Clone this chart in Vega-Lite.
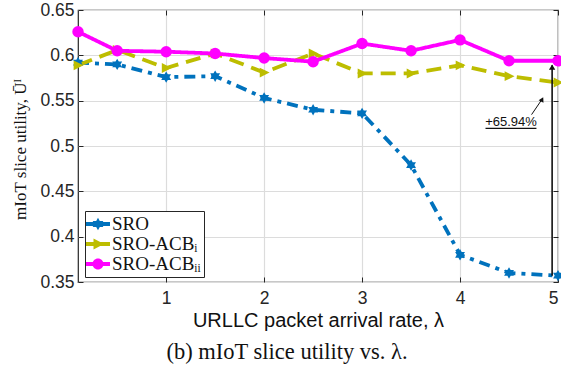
{
  "$schema": "https://vega.github.io/schema/vega-lite/v6.json",
  "width": 480,
  "height": 272,
  "autosize": {"type": "none"},
  "padding": {"left": 78, "top": 10, "right": 3, "bottom": 92},
  "background": "white",
  "config": {
    "view": {"stroke": "#262626", "strokeWidth": 1.2},
    "axis": {
      "labelFont": "Liberation Sans",
      "labelFontSize": 17.5,
      "labelColor": "#262626",
      "domain": false,
      "tickColor": "#262626",
      "tickSize": -5,
      "gridColor": "#dcdcdc",
      "gridWidth": 1.2,
      "titleFontWeight": "normal",
      "titleColor": "#111111"
    }
  },
  "title": {
    "text": "(b) mIoT slice utility vs. λ.",
    "orient": "bottom",
    "anchor": "middle",
    "font": "Liberation Serif",
    "fontSize": 22.5,
    "fontWeight": "normal",
    "color": "#111111",
    "dx": -31,
    "offset": 10
  },
  "datasets": {
    "main": [
      {"lam": 0.1, "u": 0.592, "s": "SRO"},
      {"lam": 0.5, "u": 0.590, "s": "SRO"},
      {"lam": 1.0, "u": 0.576, "s": "SRO"},
      {"lam": 1.5, "u": 0.577, "s": "SRO"},
      {"lam": 2.0, "u": 0.553, "s": "SRO"},
      {"lam": 2.5, "u": 0.540, "s": "SRO"},
      {"lam": 3.0, "u": 0.536, "s": "SRO"},
      {"lam": 3.5, "u": 0.479, "s": "SRO"},
      {"lam": 4.0, "u": 0.380, "s": "SRO"},
      {"lam": 4.5, "u": 0.360, "s": "SRO"},
      {"lam": 5.0, "u": 0.357, "s": "SRO"},
      {"lam": 0.1, "u": 0.589, "s": "SRO-ACBᵢ"},
      {"lam": 0.5, "u": 0.606, "s": "SRO-ACBᵢ"},
      {"lam": 1.0, "u": 0.586, "s": "SRO-ACBᵢ"},
      {"lam": 1.5, "u": 0.602, "s": "SRO-ACBᵢ"},
      {"lam": 2.0, "u": 0.581, "s": "SRO-ACBᵢ"},
      {"lam": 2.5, "u": 0.602, "s": "SRO-ACBᵢ"},
      {"lam": 3.0, "u": 0.580, "s": "SRO-ACBᵢ"},
      {"lam": 3.5, "u": 0.580, "s": "SRO-ACBᵢ"},
      {"lam": 4.0, "u": 0.589, "s": "SRO-ACBᵢ"},
      {"lam": 4.5, "u": 0.577, "s": "SRO-ACBᵢ"},
      {"lam": 5.0, "u": 0.570, "s": "SRO-ACBᵢ"},
      {"lam": 0.1, "u": 0.626, "s": "SRO-ACBᵢᵢ"},
      {"lam": 0.5, "u": 0.605, "s": "SRO-ACBᵢᵢ"},
      {"lam": 1.0, "u": 0.604, "s": "SRO-ACBᵢᵢ"},
      {"lam": 1.5, "u": 0.602, "s": "SRO-ACBᵢᵢ"},
      {"lam": 2.0, "u": 0.597, "s": "SRO-ACBᵢᵢ"},
      {"lam": 2.5, "u": 0.593, "s": "SRO-ACBᵢᵢ"},
      {"lam": 3.0, "u": 0.613, "s": "SRO-ACBᵢᵢ"},
      {"lam": 3.5, "u": 0.605, "s": "SRO-ACBᵢᵢ"},
      {"lam": 4.0, "u": 0.617, "s": "SRO-ACBᵢᵢ"},
      {"lam": 4.5, "u": 0.594, "s": "SRO-ACBᵢᵢ"},
      {"lam": 5.0, "u": 0.594, "s": "SRO-ACBᵢᵢ"}
    ],
    "vline": [{"x": 4.94, "y": 0.357, "y2": 0.589}],
    "vhead": [{"x": 4.94, "y": 0.587}],
    "label": [{"x": 4.52, "y": 0.5265, "t": "+65.94%"}],
    "uline": [{"x": 4.26, "x2": 4.78, "y": 0.5195}],
    "sarrow": [{"x": 4.73, "y": 0.5346, "x2": 4.84, "y2": 0.552}],
    "shead": [{"x": 4.838, "y": 0.5515}]
  },
  "layer": [
    {
      "data": {"name": "main"},
      "mark": {"type": "point", "filled": true, "size": 400, "strokeWidth": 0},
      "encoding": {
        "x": {
          "field": "lam", "type": "quantitative",
          "scale": {"domain": [0.1, 5], "nice": false, "zero": false},
          "axis": {"values": [1, 2, 3, 4, 5], "title": "URLLC packet arrival rate, λ", "titleFont": "Liberation Sans", "titleFontSize": 20, "titlePadding": 4, "labelPadding": 12}
        },
        "y": {
          "field": "u", "type": "quantitative",
          "scale": {"domain": [0.35, 0.65], "nice": false, "zero": false},
          "axis": {"values": [0.35, 0.4, 0.45, 0.5, 0.55, 0.6, 0.65], "format": ".2~f", "title": "mIoT slice utility, Ūᴵ", "titleFont": "Liberation Serif", "titleFontSize": 17, "titlePadding": 10, "labelPadding": 9, "titleY": 139}
        },
        "opacity": {"field": "u", "type": "quantitative", "scale": {"range": [0, 0]}, "legend": null},
        "color": {
          "field": "s", "type": "nominal",
          "scale": {"domain": ["SRO", "SRO-ACBᵢ", "SRO-ACBᵢᵢ"], "range": ["#0072BD", "#BDBD00", "#FF00FF"]},
          "legend": {
            "title": null,
            "orient": "none",
            "legendX": 7,
            "legendY": 201,
            "direction": "vertical",
            "fillColor": "white",
            "strokeColor": "#262626",
            "padding": 3,
            "rowPadding": 0,
            "labelFont": "Liberation Serif",
            "labelFontSize": 19,
            "labelColor": "#111111",
            "labelOffset": 4,
            "symbolSize": 400,
            "symbolStrokeWidth": 0,
            "symbolOpacity": 1
          }
        },
        "shape": {
          "field": "s", "type": "nominal",
          "scale": {"domain": ["SRO", "SRO-ACBᵢ", "SRO-ACBᵢᵢ"], "range": [
            "M-1.2,-0.2 H1.2 V0.2 H-1.2 Z M0,-0.62 L0.179,-0.31 L0.537,-0.31 L0.358,0 L0.537,0.31 L0.179,0.31 L0,0.62 L-0.179,0.31 L-0.537,0.31 L-0.358,0 L-0.537,-0.31 L-0.179,-0.31 Z",
            "M-1.2,-0.2 H1.2 V0.2 H-1.2 Z M-0.45,-0.55 L0.6,0 L-0.45,0.55 Z",
            "M-1.2,-0.2 H1.2 V0.2 H-1.2 Z M-0.55,0 A0.55,0.55 0 1,1 0.55,0 A0.55,0.55 0 1,1 -0.55,0 Z"
          ]},
          "legend": null
        }
      }
    },
    {
      "data": {"name": "main"},
      "mark": {"type": "line", "strokeWidth": 3.8},
      "encoding": {
        "x": {"field": "lam", "type": "quantitative", "axis": null},
        "y": {"field": "u", "type": "quantitative", "axis": null},
        "color": {"field": "s", "type": "nominal", "legend": null},
        "strokeDash": {
          "field": "s", "type": "nominal",
          "scale": {"domain": ["SRO", "SRO-ACBᵢ", "SRO-ACBᵢᵢ"], "range": [[11, 6, 4, 6], [15, 8], [1, 0]]},
          "legend": null
        }
      }
    },
    {
      "data": {"name": "main"},
      "transform": [{"filter": {"field": "s", "equal": "SRO"}}],
      "mark": {"type": "point", "filled": true, "opacity": 1, "size": 130, "color": "#0072BD", "shape": "M0,-1 L0.289,-0.5 L0.866,-0.5 L0.577,0 L0.866,0.5 L0.289,0.5 L0,1 L-0.289,0.5 L-0.866,0.5 L-0.577,0 L-0.866,-0.5 L-0.289,-0.5 Z"},
      "encoding": {
        "x": {"field": "lam", "type": "quantitative", "axis": {"orient": "top", "values": [1, 2, 3, 4, 5], "labels": false, "grid": false, "title": null}},
        "y": {"field": "u", "type": "quantitative", "axis": {"orient": "right", "values": [0.35, 0.4, 0.45, 0.5, 0.55, 0.6, 0.65], "labels": false, "grid": false, "title": null}}
      }
    },
    {
      "data": {"name": "main"},
      "transform": [{"filter": {"field": "s", "equal": "SRO-ACBᵢ"}}],
      "mark": {"type": "point", "filled": true, "opacity": 1, "size": 120, "color": "#BDBD00", "shape": "M-0.8,-0.9 L1,0 L-0.8,0.9 Z"},
      "encoding": {
        "x": {"field": "lam", "type": "quantitative", "axis": null},
        "y": {"field": "u", "type": "quantitative", "axis": null}
      }
    },
    {
      "data": {"name": "main"},
      "transform": [{"filter": {"field": "s", "equal": "SRO-ACBᵢᵢ"}}],
      "mark": {"type": "point", "filled": true, "opacity": 1, "size": 130, "color": "#FF00FF", "shape": "circle"},
      "encoding": {
        "x": {"field": "lam", "type": "quantitative", "axis": null},
        "y": {"field": "u", "type": "quantitative", "axis": null}
      }
    },
    {
      "data": {"name": "vline"},
      "mark": {"type": "rule", "color": "#111111", "strokeWidth": 1.6},
      "encoding": {
        "x": {"field": "x", "type": "quantitative", "axis": null},
        "y": {"field": "y", "type": "quantitative", "axis": null},
        "y2": {"field": "y2"}
      }
    },
    {
      "data": {"name": "vhead"},
      "mark": {"type": "point", "shape": "triangle-up", "filled": true, "color": "#111111", "size": 40, "opacity": 1},
      "encoding": {
        "x": {"field": "x", "type": "quantitative", "axis": null},
        "y": {"field": "y", "type": "quantitative", "axis": null}
      }
    },
    {
      "data": {"name": "label"},
      "mark": {"type": "text", "font": "Liberation Sans", "fontSize": 13, "color": "#111111"},
      "encoding": {
        "x": {"field": "x", "type": "quantitative", "axis": null},
        "y": {"field": "y", "type": "quantitative", "axis": null},
        "text": {"field": "t"}
      }
    },
    {
      "data": {"name": "uline"},
      "mark": {"type": "rule", "color": "#111111", "strokeWidth": 1.2},
      "encoding": {
        "x": {"field": "x", "type": "quantitative", "axis": null},
        "x2": {"field": "x2"},
        "y": {"field": "y", "type": "quantitative", "axis": null}
      }
    },
    {
      "data": {"name": "sarrow"},
      "mark": {"type": "rule", "color": "#111111", "strokeWidth": 1},
      "encoding": {
        "x": {"field": "x", "type": "quantitative", "axis": null},
        "x2": {"field": "x2"},
        "y": {"field": "y", "type": "quantitative", "axis": null},
        "y2": {"field": "y2"}
      }
    },
    {
      "data": {"name": "shead"},
      "mark": {"type": "point", "shape": "triangle-up", "filled": true, "color": "#111111", "size": 30, "angle": 27, "opacity": 1},
      "encoding": {
        "x": {"field": "x", "type": "quantitative", "axis": null},
        "y": {"field": "y", "type": "quantitative", "axis": null}
      }
    }
  ],
  "resolve": {"axis": {"x": "independent", "y": "independent"}}
}
